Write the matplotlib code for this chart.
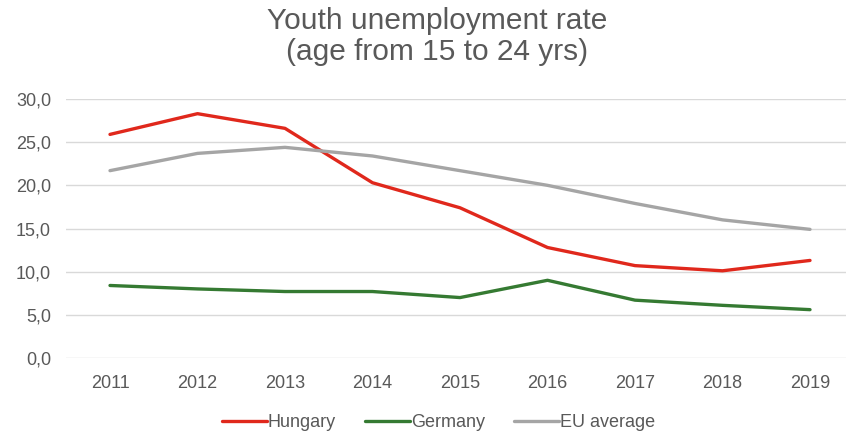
import matplotlib.pyplot as plt
import numpy as np

plt.rcParams['font.family'] = ['Liberation Sans', 'DejaVu Sans']

# Data
years = ['2011', '2012', '2013', '2014', '2015', '2016', '2017', '2018', '2019']
hungary = [25.9, 28.3, 26.6, 20.3, 17.4, 12.8, 10.7, 10.1, 11.3]
germany = [8.4, 8.0, 7.7, 7.7, 7.0, 9.0, 6.7, 6.1, 5.6]
eu_average = [21.7, 23.7, 24.4, 23.4, 21.7, 20.0, 17.9, 16.0, 14.9]

COLORS = {
    'Hungary': '#E0281C',
    'Germany': '#357A32',
    'EU average': '#A5A5A5',
}
TEXT = '#595959'

fig = plt.figure(figsize=(8.46, 4.38), dpi=100)
ax = fig.add_axes([66.25 / 846, 80 / 438, 787.5 / 846, 259 / 438])

x = np.arange(len(years))
ax.plot(x, hungary, color=COLORS['Hungary'], lw=2.4, label='Hungary',
        solid_joinstyle='round', solid_capstyle='round')
ax.plot(x, germany, color=COLORS['Germany'], lw=2.4, label='Germany',
        solid_joinstyle='round', solid_capstyle='round')
ax.plot(x, eu_average, color=COLORS['EU average'], lw=2.4, label='EU average',
        solid_joinstyle='round', solid_capstyle='round')

ax.set_xlim(-0.5, len(years) - 0.5)
ax.set_ylim(0, 30)
ax.set_yticks(np.arange(0, 31, 5))
ax.set_yticklabels([f'{v:.1f}'.replace('.', ',') for v in np.arange(0, 31, 5)])
ax.set_xticks(x)
ax.set_xticklabels(years)
ax.tick_params(axis='both', length=0, labelsize=13, colors=TEXT)
ax.tick_params(axis='x', pad=12)
ax.tick_params(axis='y', pad=11)
ax.grid(axis='y', color='#D9D9D9', lw=1)
ax.set_axisbelow(True)
for s in ax.spines.values():
    s.set_visible(False)

fig.text(0.517, 0.985, 'Youth unemployment rate\n(age from 15 to 24 yrs)',
         ha='center', va='top', fontsize=21.5, color=TEXT, linespacing=1.15)

fig.legend(loc='center', bbox_to_anchor=(0.518, 0.035), ncol=3, frameon=False,
           fontsize=13, labelcolor=TEXT, handlelength=2.5, handletextpad=0.05,
           columnspacing=1.6)

fig.savefig('out.png', dpi=100)
